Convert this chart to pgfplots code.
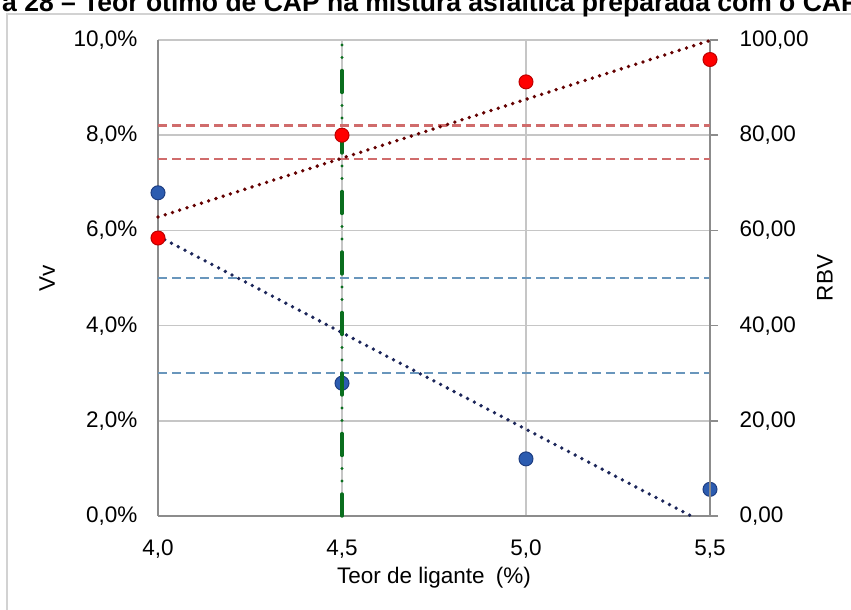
\documentclass[border=0pt]{standalone}
\usepackage{fontspec}
\setmainfont{Liberation Sans}
\usepackage{pgfplots}
\pgfplotsset{compat=1.18}

\definecolor{gridgray}{RGB}{198,198,198}
\definecolor{axisgray}{RGB}{140,140,140}
\definecolor{framegray}{RGB}{210,210,210}
\definecolor{vvfill}{RGB}{44,92,176}
\definecolor{vvedge}{RGB}{30,62,130}
\definecolor{rbvfill}{RGB}{255,0,0}
\definecolor{rbvedge}{RGB}{190,0,0}
\definecolor{vvtrend}{RGB}{28,38,90}
\definecolor{rbvtrend}{RGB}{100,0,0}
\definecolor{vvlimit}{RGB}{105,150,188}
\definecolor{rbvlimit}{RGB}{208,108,108}
\definecolor{optgreen}{RGB}{10,110,30}

% Laboratory results: air voids (Vv) and voids filled with bitumen (RBV)
\pgfplotstableread{
teor vv
4.0 6.79
4.5 2.79
5.0 1.20
5.5 0.56
}\vvdata
\pgfplotstableread{
teor rbv
4.0 58.4
4.5 80.0
5.0 91.2
5.5 95.9
}\rbvdata

\pgfplotsset{
  common/.style={
    at={(158pt,94pt)}, anchor=south west,
    scale only axis, width=552pt, height=476pt,
    xmin=4, xmax=5.5,
    clip=false,
    /pgf/number format/assume math mode=true,
    axis line style={axisgray, line width=2pt},
    every tick label/.append style={font=\fontsize{22.5}{27}\selectfont},
    label style={font=\fontsize{22.5}{27}\selectfont},
  },
  trend/.style={line width=3.8pt, line cap=round, dash pattern=on 0pt off 7.6pt},
  limit/.style={line width=2.6pt, dash pattern=on 9pt off 5pt},
}

\begin{document}
\fontsize{22.5}{27}\selectfont
\begin{tikzpicture}
\useasboundingbox (0pt,0pt) rectangle (851pt,610pt);
\clip (0pt,0pt) rectangle (851pt,610pt);
\draw[framegray, line width=1.5pt] (7pt,596pt) rectangle (900pt,-60pt);
\begin{scope}[every node/.style={inner sep=0, font=\fontsize{26.5}{31}\selectfont\bfseries}]
\node[anchor=base east] at (2pt,598pt) {Figur};
\node[anchor=base west] at (2pt,598pt)
  {a 28 – Teor ótimo de CAP na mistura asfáltica preparada com o CAP 50/70};
\end{scope}

% left axis: Vv
\begin{axis}[common,
  ymin=0, ymax=10,
  axis x line*=bottom, axis y line*=left,
  xtick={4,4.5,5,5.5},
  xticklabels={{4,0},{4,5},{5,0},{5,5}},
  ytick={0,2,4,6,8,10},
  yticklabel={\pgfmathprintnumber[fixed,fixed zerofill,precision=1,use comma]{\tick}\%},
  major tick length=0pt,
  xticklabel style={yshift=-16pt},
  yticklabel style={xshift=-13pt},
  grid=major,
  major grid style={gridgray, line width=1.5pt},
  xlabel={Teor de ligante\enspace(\%)},
  ylabel={Vv},
  every axis x label/.style={at={(axis description cs:0.5,0)}, anchor=center, yshift=-62pt},
  every axis y label/.style={at={(axis description cs:-0.201,0.5)}, rotate=90, anchor=center},
]
\addplot[vvlimit, limit] coordinates {(4,5) (5.5,5)};
\addplot[vvlimit, limit] coordinates {(4,3) (5.5,3)};
\addplot[vvtrend, trend] coordinates {(4.0,5.88) (5.449,0)};
\addplot[only marks, mark=*, mark size=7pt,
  mark options={fill=vvfill, draw=vvedge, line width=1pt}] table[x=teor, y=vv] {\vvdata};
\end{axis}

% right axis: RBV
\begin{axis}[common,
  ymin=0, ymax=100,
  axis x line=none, axis y line*=right,
  ytick={0,20,40,60,80,100},
  yticklabel={\pgfmathprintnumber[fixed,fixed zerofill,precision=2,use comma]{\tick}},
  tick align=outside, major tick length=8pt,
  major tick style={axisgray, line width=1.5pt},
  yticklabel style={xshift=14pt},
  ylabel={RBV},
  every axis y label/.style={at={(axis description cs:1.208,0.5)}, rotate=90, anchor=center},
]
\addplot[rbvlimit, limit] coordinates {(4,82) (5.5,82)};
\addplot[rbvlimit, limit] coordinates {(4,75) (5.5,75)};
\addplot[rbvtrend, trend] coordinates {(4.0,62.8) (5.5,99.9)};
\addplot[only marks, mark=*, mark size=7pt,
  mark options={fill=rbvfill, draw=rbvedge, line width=1pt}] table[x=teor, y=rbv] {\rbvdata};
% optimum binder content
\addplot[optgreen, line width=3.4pt, line cap=round,
  dash pattern=on 22pt off 13pt on 0pt off 12.5pt on 0pt off 13pt] coordinates {(4.5,0) (4.5,100)};
\end{axis}
\end{tikzpicture}
\end{document}
